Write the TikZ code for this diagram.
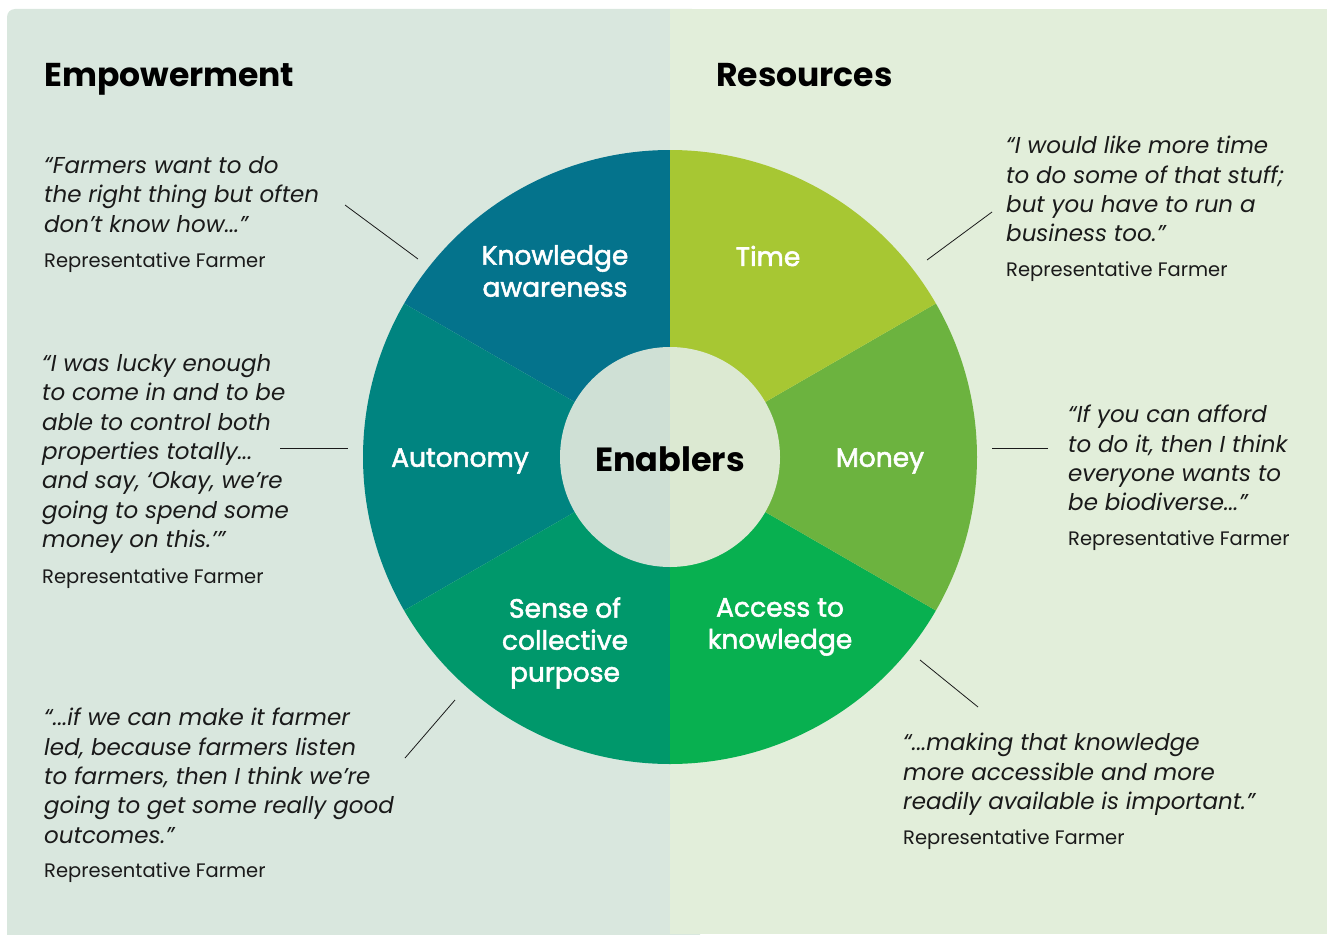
\documentclass[tikz,border=0pt]{standalone}
\usepackage{fontspec}
\setmainfont{Poppins}
\newfontfamily\labelfont{Poppins}[UprightFeatures={FakeBold=2}]
\usetikzlibrary{positioning}
\definecolor{panelL}{HTML}{D9E7DE}
\definecolor{panelR}{HTML}{E2EEDA}
\definecolor{innerL}{HTML}{CFE0D5}
\definecolor{innerR}{HTML}{DCE9D2}
\definecolor{knowC}{HTML}{04738C}
\definecolor{autoC}{HTML}{008480}
\definecolor{senseC}{HTML}{00986B}
\definecolor{accessC}{HTML}{08B050}
\definecolor{moneyC}{HTML}{6CB33F}
\definecolor{timeC}{HTML}{A7C733}
\definecolor{inkC}{HTML}{1A1A1A}
\tikzset{heading/.style=
   {anchor=base west,
    inner sep=0pt,
    font=\bfseries\fontsize{33}{38}\selectfont}}
\tikzset{quote/.style=
   {anchor=north west,
    align=left,
    inner sep=0pt,
    text=inkC,
    font=\itshape\fontsize{23}{29.4}\selectfont}}
\tikzset{attrib/.style=
   {anchor=base west,
    inner sep=0pt,
    text=inkC,
    font=\fontsize{19.5}{23}\selectfont}}
\tikzset{segment/.style=
   {align=center,
    inner sep=0pt,
    text=white,
    font=\labelfont\fontsize{26.5}{32}\selectfont}}
\tikzset{leader/.style = {draw, inkC, line width=0.8pt}}

\begin{document}
\begin{tikzpicture}[x=1pt, y=-1pt]

    \useasboundingbox (0,0) rectangle (1327,934);

    % Panels
    \fill [panelL, rounded corners=8pt] (7,9) rectangle (700,960);
    \fill [panelR] (670,9) rectangle (1327,934);

    % Wheel
    \begin{scope}[shift={(670,457)}, yscale=-1]
        \foreach \a/\c in {90/knowC, 150/autoC, 210/senseC, 270/accessC, 330/moneyC, 30/timeC}
            \fill [\c] (0,0) -- (\a:307) arc [start angle=\a, delta angle=60, radius=307] -- cycle;
        \fill [innerL] (0,110) arc [start angle=90, end angle=270, radius=110] -- cycle;
        \fill [innerR] (0,-110) arc [start angle=-90, end angle=90, radius=110] -- cycle;
    \end{scope}

    % Place nodes
    \node [heading] (empower) at (44,86) {Empowerment};
    \node [heading] (resource) at (716,86) {Resources};

    \node [font=\bfseries\fontsize{33.5}{40}\selectfont, inner sep=0pt] (enablers) at (670,459) {Enablers};

    \node [segment] (know) at (555,271) {Knowledge\\awareness};
    \node [segment] (autonomy) at (460,461) {Autonomy};
    \node [segment] (sense) at (565,643) {Sense of\\collective\\purpose};
    \node [segment] (access) at (780,627) {Access to\\knowledge};
    \node [segment] (money) at (880,461) {Money};
    \node [segment] (time) at (768,256) {Time};

    \node [quote] (q1) at (44,156) {“Farmers want to do\\the right thing but often\\don’t know how...”};
    \node [attrib] (a1) at (44,267) {Representative Farmer};

    \node [quote] (q2) at (1006,136) {“I would like more time\\to do some of that stuff;\\but you have to run a\\business too.”};
    \node [attrib] (a2) at (1006,276) {Representative Farmer};

    \node [quote] (q3) at (42,354) {“I was lucky enough\\to come in and to be\\able to control both\\properties totally...\\and say, ‘Okay, we’re\\going to spend some\\money on this.’”};
    \node [attrib] (a3) at (42,583) {Representative Farmer};

    \node [quote] (q4) at (1068,405) {“If you can afford\\to do it, then I think\\everyone wants to\\be biodiverse...”};
    \node [attrib] (a4) at (1068,545) {Representative Farmer};

    \node [quote] (q5) at (44,708) {“...if we can make it farmer\\led, because farmers listen\\to farmers, then I think we’re\\going to get some really good\\outcomes.”};
    \node [attrib] (a5) at (44,877) {Representative Farmer};

    \node [quote] (q6) at (903,733) {“...making that knowledge\\more accessible and more\\readily available is important.”};
    \node [attrib] (a6) at (903,844) {Representative Farmer};

    % Leader ends
    \coordinate (k1a) at (345,205);
    \coordinate (k1b) at (418,259);
    \coordinate (k2a) at (992,212);
    \coordinate (k2b) at (927,260);
    \coordinate (k3a) at (280,448);
    \coordinate (k3b) at (348,448);
    \coordinate (k4a) at (1048,448);
    \coordinate (k4b) at (992,448);
    \coordinate (k5a) at (405,758);
    \coordinate (k5b) at (455,700);
    \coordinate (k6a) at (978,707);
    \coordinate (k6b) at (920,660);

    % Draw edges
    \path [leader] (k1a) -- (k1b);
    \path [leader] (k2a) -- (k2b);
    \path [leader] (k3a) -- (k3b);
    \path [leader] (k4a) -- (k4b);
    \path [leader] (k5a) -- (k5b);
    \path [leader] (k6a) -- (k6b);

\end{tikzpicture}
\end{document}
